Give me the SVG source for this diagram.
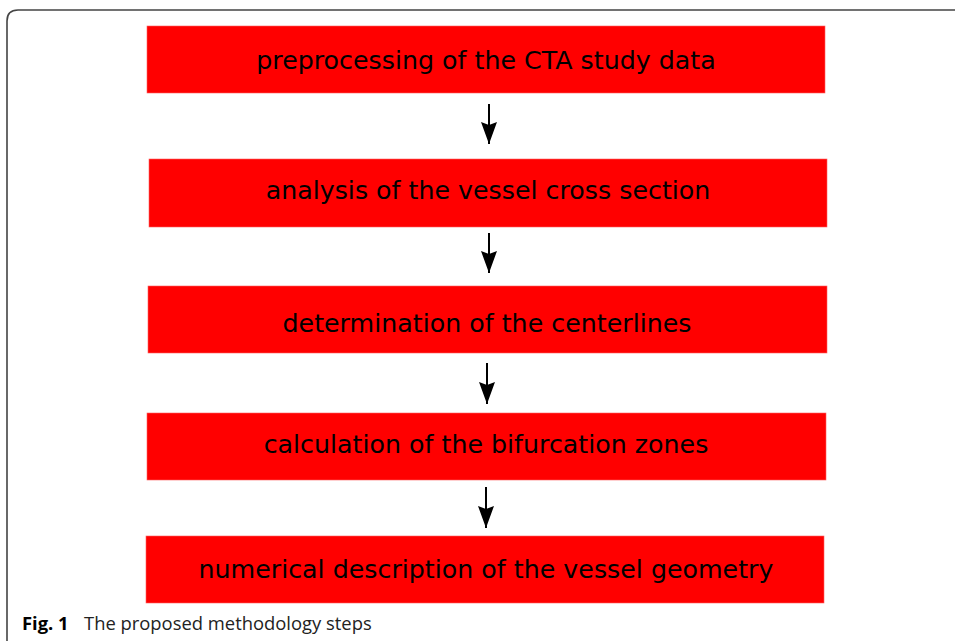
<svg xmlns="http://www.w3.org/2000/svg" width="955" height="641" viewBox="0 0 955 641">
<style>
.box{fill:#ff0000;stroke:#ff6060;stroke-width:0.6}
.lbl{font-family:"DejaVu Sans",Verdana,sans-serif;font-size:25.3px;fill:#000;text-anchor:middle}
.con{stroke:#000;stroke-width:2;fill:none}
.cap{font-family:"Open Sans","Noto Sans",sans-serif;font-size:18.4px;fill:#222}
</style>
<defs>
<marker id="ah" viewBox="0 0 22 16" refX="22" refY="8" markerWidth="22" markerHeight="16" markerUnits="userSpaceOnUse" orient="auto">
<path d="M0,0 L3,8 L0,16 L22,8 Z" fill="#000"/>
</marker>
</defs>
<rect width="955" height="641" fill="#fff"/>
<path d="M7,641 L7,21 Q7,10 18,10 L955,10" fill="none" stroke="#444" stroke-width="1.6"/>
<g id="n1"><rect class="box" x="147" y="26" width="678" height="67"/><text class="lbl" x="486" y="69">preprocessing of the CTA study data</text></g>
<g id="n2"><rect class="box" x="149" y="159" width="678" height="68"/><text class="lbl" x="488" y="199">analysis of the vessel cross section</text></g>
<g id="n3"><rect class="box" x="148" y="286" width="679" height="67"/><text class="lbl" x="487" y="332">determination of the centerlines</text></g>
<g id="n4"><rect class="box" x="147" y="413" width="679" height="67"/><text class="lbl" x="486" y="453">calculation of the bifurcation zones</text></g>
<g id="n5"><rect class="box" x="146" y="536" width="678" height="67"/><text class="lbl" x="486" y="578">numerical description of the vessel geometry</text></g>
<g id="connectors">
<line class="con" x1="489" y1="104" x2="489" y2="144" marker-end="url(#ah)"/>
<line class="con" x1="489" y1="233" x2="489" y2="273" marker-end="url(#ah)"/>
<line class="con" x1="487" y1="363" x2="487" y2="404" marker-end="url(#ah)"/>
<line class="con" x1="486" y1="487" x2="486" y2="528" marker-end="url(#ah)"/>
</g>
<text class="cap" x="22" y="630"><tspan font-weight="bold" fill="#000">Fig. 1</tspan><tspan x="84">The proposed methodology steps</tspan></text>
</svg>
